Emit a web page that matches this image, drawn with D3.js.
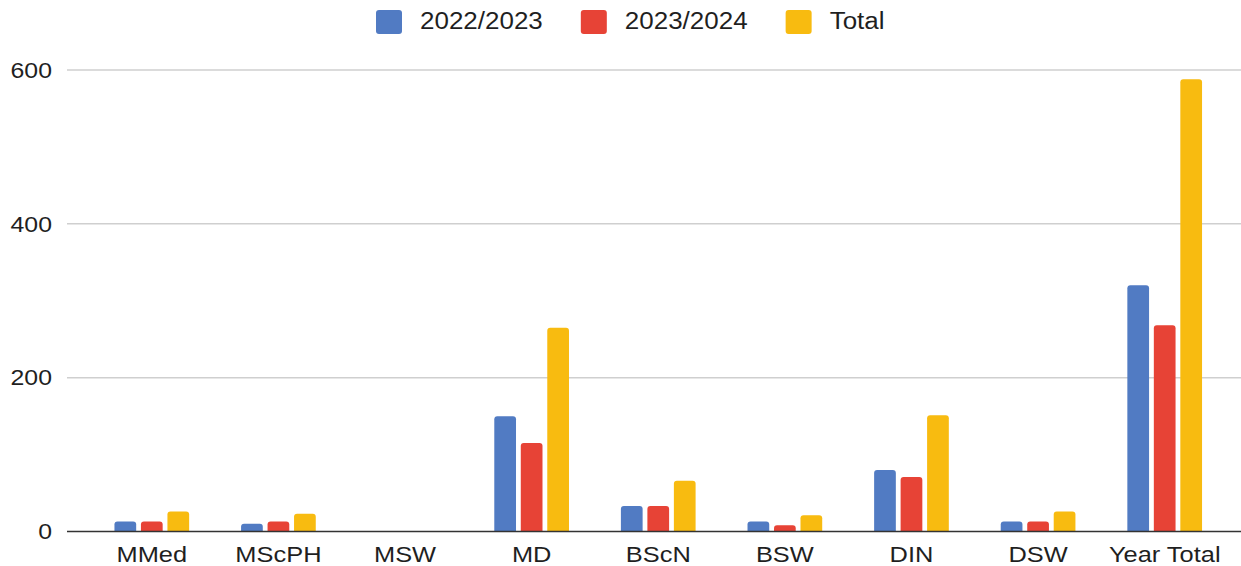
<!DOCTYPE html>
<html>
<head>
<meta charset="utf-8">
<script src="https://cdn.jsdelivr.net/npm/d3@7"></script>
<style>
  body { margin: 0; background: #fff; }
  text { font-family: "Liberation Sans", Arial, sans-serif; fill: #1f1f1f; }
</style>
</head>
<body>
<div id="chart"></div>
<script>
// data
var categories = ["MMed", "MScPH", "MSW", "MD", "BScN", "BSW", "DIN", "DSW", "Year Total"];
var seriesNames = ["2022/2023", "2023/2024", "Total"];
var y2022 = [13, 10, 0, 150, 33, 13, 80, 13, 320];
var y2023 = [13, 13, 0, 115, 33, 8, 71, 13, 268];
var totals = [26, 23, 0, 265, 66, 21, 151, 26, 588];
var yTicks = [0, 200, 400, 600];
var colors = ["#517bc3", "#e74336", "#f8bb10"];

var seriesValues = [y2022, y2023, totals];

var svgWidth = 1241;
var svgHeight = 566;
var stretch = 1.13; // text in the picture is a bit wide

var svg = d3.select("#chart")
  .append("svg")
  .attr("width", svgWidth)
  .attr("height", svgHeight);

// scales
var yScale = d3.scaleLinear()
  .domain([0, 600])
  .range([531.5, 70]);

var x0 = d3.scaleBand()
  .domain(categories)
  .range([88.5, 1228])
  .paddingInner(0.41)
  .paddingOuter(0.205);

var x1 = d3.scaleBand()
  .domain(seriesNames)
  .range([0, x0.bandwidth()])
  .paddingInner(0.18);

// gridlines
svg.append("g")
  .selectAll("line")
  .data(yTicks.filter(d => d > 0))
  .enter()
  .append("line")
  .attr("x1", 67)
  .attr("x2", svgWidth)
  .attr("y1", d => yScale(d))
  .attr("y2", d => yScale(d))
  .attr("stroke", "#cfcfcf")
  .attr("stroke-width", 1.5);

// y tick labels
svg.append("g")
  .selectAll("text")
  .data(yTicks)
  .enter()
  .append("text")
  .attr("transform", d => `translate(52, ${yScale(d) + 7.8}) scale(${stretch},1)`)
  .attr("text-anchor", "end")
  .style("font-size", "22px")
  .text(d => d);

// bars with rounded top corners
function barPath(x, y, w, h, r) {
  if (h <= 0) return "";
  r = Math.min(r, h, w / 2);
  return `M${x},${y + h}V${y + r}Q${x},${y} ${x + r},${y}H${x + w - r}Q${x + w},${y} ${x + w},${y + r}V${y + h}Z`;
}

var rows = [];
categories.forEach(function(cat, i) {
  seriesNames.forEach(function(s, j) {
    rows.push({ cat: cat, series: s, value: seriesValues[j][i], color: colors[j] });
  });
});

svg.append("g")
  .selectAll("path")
  .data(rows)
  .enter()
  .append("path")
  .attr("d", d => barPath(
    x0(d.cat) + x1(d.series),
    yScale(d.value),
    x1.bandwidth(),
    yScale(0) - yScale(d.value),
    3))
  .attr("fill", d => d.color);

// baseline
svg.append("line")
  .attr("x1", 67)
  .attr("x2", svgWidth)
  .attr("y1", yScale(0))
  .attr("y2", yScale(0))
  .attr("stroke", "#333")
  .attr("stroke-width", 1.5);

// x labels (kept just inside the bottom edge)
svg.append("g")
  .selectAll("text")
  .data(categories)
  .enter()
  .append("text")
  .attr("transform", d => `translate(${x0(d) + x0.bandwidth() / 2}, 561.5) scale(${stretch},1)`)
  .attr("text-anchor", "middle")
  .style("font-size", "22.5px")
  .text(d => d);

// legend
var legend = svg.append("g");
var lx = 376;
seriesNames.forEach(function(name, j) {
  legend.append("rect")
    .attr("x", lx)
    .attr("y", 10)
    .attr("width", 26)
    .attr("height", 24)
    .attr("rx", 3)
    .attr("fill", colors[j]);
  var t = legend.append("text")
    .attr("transform", `translate(${lx + 44}, 28.5) scale(${stretch},1)`)
    .style("font-size", "23px")
    .text(name);
  var w = t.node().getComputedTextLength() * stretch;
  lx = lx + 44 + w + 38;
});
</script>
</body>
</html>
